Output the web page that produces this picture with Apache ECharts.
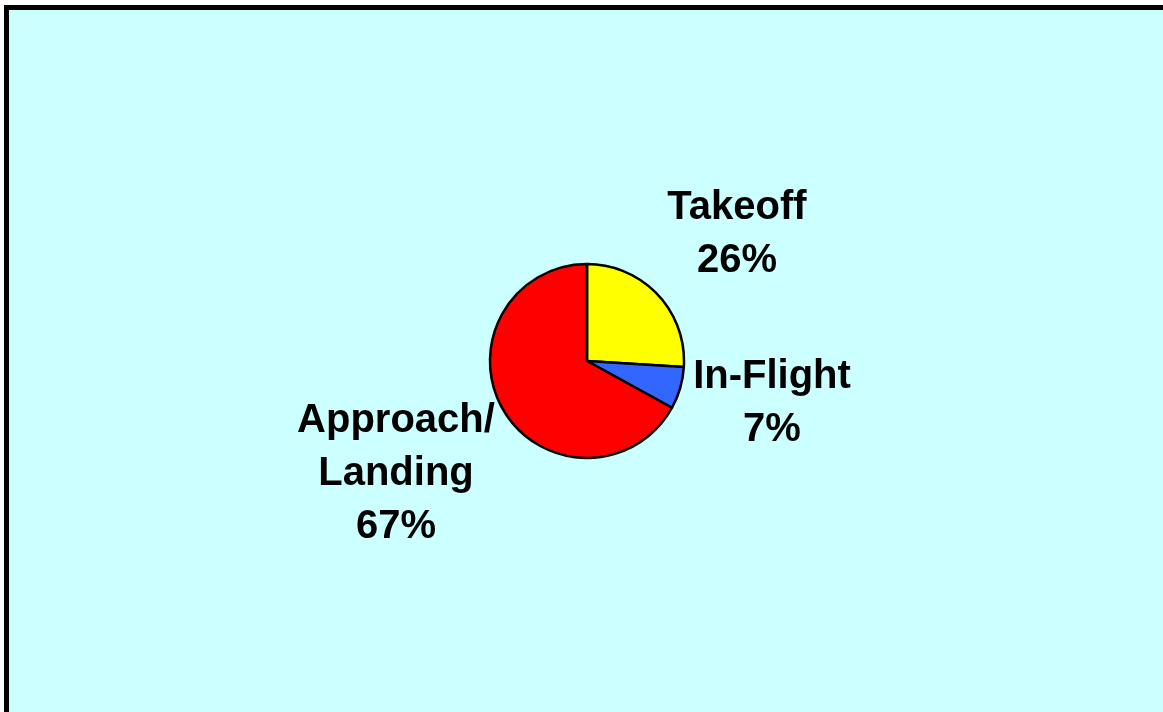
<!DOCTYPE html>
<html>
<head>
<meta charset="utf-8">
<style>
  html, body { margin: 0; padding: 0; background: #ffffff; }
  #chart { width: 1163px; height: 712px; }
</style>
<script src="https://cdn.jsdelivr.net/npm/echarts@6/dist/echarts.min.js"></script>
</head>
<body>
<div id="chart"></div>
<script>
// Flight phase shares (percent)
const phases = ['Takeoff', 'In-Flight', 'Approach/\nLanding'];
const shares = [26, 7, 67];
const sliceColors = ['#FFFF00', '#3366FF', '#FF0000'];

// Where each phase label block is centred on the page
const labelSpots = [
  [737, 234],
  [772, 403],
  [396, 474]
];

const chart = echarts.init(document.getElementById('chart'), null, { renderer: 'canvas' });

chart.setOption({
  animation: false,
  backgroundColor: '#ffffff',
  graphic: [{
    type: 'rect',
    z: -10,
    silent: true,
    shape: { x: 6.5, y: 7.5, width: 1300, height: 900 },
    style: { fill: '#CCFFFF', stroke: '#000000', lineWidth: 5 }
  }],
  series: [{
    type: 'pie',
    center: [587, 361],
    radius: 97,
    startAngle: 90,
    clockwise: true,
    avoidLabelOverlap: false,
    silent: true,
    emphasis: { disabled: true },
    itemStyle: { borderColor: '#000000', borderWidth: 2.5 },
    label: {
      show: true,
      position: 'outside',
      color: '#000000',
      fontFamily: '"Liberation Sans", Arial, sans-serif',
      fontWeight: 'bold',
      fontSize: 40,
      lineHeight: 53,
      align: 'center',
      formatter: p => p.name + '\n' + p.value + '%'
    },
    labelLine: { show: false },
    labelLayout: params => ({
      x: labelSpots[params.dataIndex][0],
      y: labelSpots[params.dataIndex][1],
      align: 'center',
      verticalAlign: 'middle'
    }),
    data: phases.map((name, i) => ({
      name: name,
      value: shares[i],
      itemStyle: { color: sliceColors[i] }
    }))
  }]
});
</script>
</body>
</html>
